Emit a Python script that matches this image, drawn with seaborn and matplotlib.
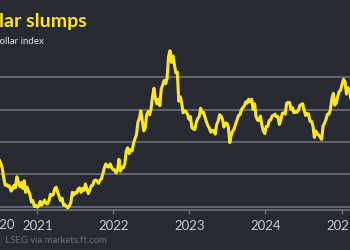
import numpy as np
import pandas as pd
import matplotlib
matplotlib.use("Agg")
import matplotlib.pyplot as plt
import matplotlib.dates as mdates
import seaborn as sns

# Weekly (Friday) US dollar index readings
start_date = "2020-06-19"
dxy_2020 = [97.6, 97.4, 97.2, 96.6, 95.9, 94.4, 93.3, 93.4, 93.1, 93.2, 92.4, 92.7,
            93.3, 92.9, 94.6, 93.8, 93.1, 93.7, 92.8, 94.0, 92.2, 93.0, 92.4, 91.8,
            90.7, 90.9, 90.0, 90.2]
dxy_2021 = [89.9, 90.1, 90.8, 90.2, 90.6, 91.0, 90.5, 90.4, 90.9, 91.9, 91.7, 91.9,
            92.8, 93.0, 92.2, 91.6, 90.9, 91.3, 90.2, 90.3, 90.0, 89.8, 90.1, 90.6,
            92.2, 91.8, 92.2, 92.1, 92.7, 92.9, 92.2, 92.8, 92.5, 93.5, 92.7, 92.0,
            92.6, 93.2, 93.3, 94.0, 94.1, 93.9, 93.6, 94.1, 94.3, 95.1, 96.0, 96.6,
            96.2, 96.1, 96.6, 96.0]
dxy_2022 = [95.7, 95.7, 95.2, 95.6, 97.3, 95.5, 96.1, 96.0, 96.6, 98.6, 99.1, 98.2,
            98.8, 98.6, 99.8, 100.5, 101.1, 103.0, 103.7, 104.8, 103.2, 101.7, 102.2,
            104.2, 104.7, 104.2, 105.1, 107.0, 108.3, 106.7, 105.9, 106.6, 105.6,
            108.2, 108.8, 109.5, 109.0, 109.8, 113.2, 114.1, 112.3, 113.3, 112.0,
            110.7, 110.8, 106.3, 107.0, 106.0, 104.5, 104.8, 104.7, 104.3]
dxy_2023 = [103.5, 103.9, 102.2, 102.0, 101.9, 103.0, 103.6, 103.9, 105.2, 104.5,
            104.6, 103.8, 103.1, 102.5, 102.1, 101.5, 101.8, 101.7, 101.2, 102.7,
            103.2, 104.2, 104.0, 103.5, 102.3, 102.9, 102.9, 102.3, 99.9, 101.1,
            101.7, 102.0, 102.8, 103.4, 104.1, 104.2, 105.0, 105.3, 105.6, 106.2,
            106.0, 106.6, 106.2, 106.6, 105.0, 105.9, 103.9, 103.4, 103.3, 104.0,
            102.6, 101.7, 101.3]
dxy_2024 = [102.4, 102.4, 103.3, 103.4, 104.0, 104.1, 104.3, 103.9, 103.9, 102.7,
            103.4, 104.4, 104.5, 104.3, 106.0, 106.1, 106.1, 105.0, 105.3, 104.5,
            104.7, 104.6, 104.9, 105.6, 105.8, 105.9, 104.9, 104.1, 104.4, 104.3,
            103.2, 103.2, 102.5, 100.7, 101.7, 101.2, 101.1, 100.7, 100.4, 102.5,
            102.9, 103.5, 104.3, 104.3, 105.0, 106.7, 107.5, 105.7, 106.0, 107.0,
            107.8, 108.0]
dxy_2025 = [108.9, 109.7, 109.3, 107.4, 108.4, 108.0, 106.7]

values = dxy_2020 + dxy_2021 + dxy_2022 + dxy_2023 + dxy_2024 + dxy_2025
dates = pd.date_range(start_date, periods=len(values), freq="W-FRI")
df = pd.DataFrame({"date": dates, "dxy": values})

gridlines = [90, 95, 100, 105, 110]
year_ticks = ["2021", "2022", "2023", "2024", "2025"]

BG = "#272a33"
YELLOW = "#ffe81a"
GRID = "#74767d"
TICKTXT = "#c9cacd"

sns.set_theme(style="dark", rc={"axes.facecolor": BG, "figure.facecolor": BG})
plt.rcParams["font.family"] = ["Lato", "DejaVu Sans"]

W, H = 350, 250
fig = plt.figure(figsize=(3.5, 2.5), dpi=100, facecolor=BG)
ax = fig.add_axes([0, 40 / H, 1, 210 / H])
ax.set_facecolor(BG)
ax.set_axisbelow(True)

sns.lineplot(data=df, x="date", y="dxy", ax=ax, color=YELLOW, linewidth=2.2,
             clip_on=False, zorder=3)

ax.set_xlim(pd.Timestamp("2020-07-06"), pd.Timestamp("2025-02-10"))
ax.set_ylim(89.47, 121.95)
ax.set_yticks(gridlines)
ax.yaxis.grid(True, color=GRID, linewidth=1.1)
ax.xaxis.grid(False)
ax.tick_params(axis="y", left=False, labelleft=False)
ax.set_xticks([pd.Timestamp(f"{y}-01-01") for y in year_ticks])
ax.set_xticklabels(year_ticks)
ax.tick_params(axis="x", bottom=True, length=3, width=1, color=GRID,
               labelcolor=TICKTXT, labelsize=9.5, pad=4.5)
ax.set_xlabel("")
ax.set_ylabel("")
for s in ["top", "left", "right"]:
    ax.spines[s].set_visible(False)
ax.spines["bottom"].set_color(GRID)
ax.spines["bottom"].set_linewidth(1.1)

def fx(px):
    return px / W

def fy(py):
    return 1 - py / H

fig.text(fx(14.5), fy(225), "2020", ha="right", va="center", color=TICKTXT,
         fontsize=9.5)
fig.text(fx(87), fy(27), "Dollar slumps", ha="right", va="baseline",
         color=YELLOW, fontsize=14, fontweight="bold")
fig.text(fx(43.5), fy(41.5), "Dollar index", ha="right", va="center",
         color="#e0e0e2", fontsize=7)
fig.text(fx(107), fy(240.5), "Source: LSEG via markets.ft.com", ha="right",
         va="center", color="#6d7079", fontsize=6.8)

fig.savefig("out.png", dpi=100, facecolor=BG)
